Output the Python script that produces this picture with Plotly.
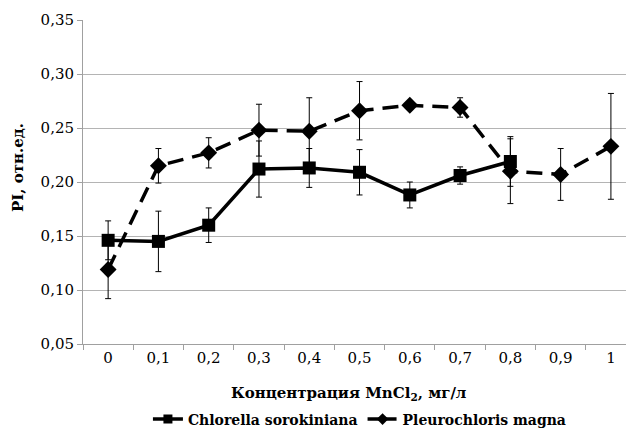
import plotly.graph_objects as go

categories = ["0", "0,1", "0,2", "0,3", "0,4", "0,5", "0,6", "0,7", "0,8", "0,9", "1"]

chlorella_x = categories[:9]
chlorella_y = [0.146, 0.145, 0.160, 0.212, 0.213, 0.209, 0.188, 0.206, 0.219]
chlorella_err = [0.018, 0.028, 0.016, 0.026, 0.018, 0.021, 0.012, 0.008, 0.023]

pleuro_x = categories
pleuro_y = [0.119, 0.215, 0.227, 0.248, 0.247, 0.266, 0.271, 0.269, 0.210, 0.207, 0.233]
pleuro_err = [0.027, 0.016, 0.014, 0.024, 0.031, 0.027, 0.003, 0.009, 0.030, 0.024, 0.049]

FONT = "DejaVu Serif"

fig = go.Figure()
fig.add_trace(go.Scatter(
    x=chlorella_x, y=chlorella_y, name="Chlorella sorokiniana",
    mode="lines+markers", showlegend=False,
    line=dict(color="black", width=3.5),
    marker=dict(symbol="square", size=13, color="black"),
    error_y=dict(type="data", array=chlorella_err, color="black", thickness=1, width=3),
))
fig.add_trace(go.Scatter(
    x=pleuro_x, y=pleuro_y, name="Pleurochloris magna",
    mode="lines+markers", showlegend=False,
    line=dict(color="black", width=3.5, dash="16px,9px"),
    marker=dict(symbol="diamond", size=13, color="black"),
    error_y=dict(type="data", array=pleuro_err, color="black", thickness=1, width=3),
))
fig.add_trace(go.Scatter(
    x=[None], y=[None], name="Chlorella sorokiniana", mode="lines+markers",
    line=dict(color="black", width=3.5),
    marker=dict(symbol="square", size=9, color="black"),
))
fig.add_trace(go.Scatter(
    x=[None], y=[None], name="Pleurochloris magna", mode="lines+markers",
    line=dict(color="black", width=3.5, dash="12px,5px"),
    marker=dict(symbol="diamond", size=9, color="black"),
))

fig.update_layout(
    width=626, height=436,
    margin=dict(l=83, r=0, t=20, b=90),
    paper_bgcolor="white", plot_bgcolor="white",
    separators=", ",
    font=dict(family=FONT, size=15, color="black"),
    showlegend=True,
    legend=dict(
        orientation="h", x=0.51, y=-0.233, xanchor="center", yanchor="middle",
        font=dict(family=FONT, size=14, color="black", weight="bold", style="normal"),
        itemwidth=30, tracegroupgap=0,
    ),
    xaxis=dict(
        type="category", categoryorder="array", categoryarray=categories,
        range=[-0.5, 10.3],
        tickson="boundaries", ticks="outside", ticklen=5, tickcolor="#a0a0a0",
        showline=True, linecolor="#a0a0a0", linewidth=1,
        showgrid=False, zeroline=False,
        tickfont=dict(family=FONT, size=15, color="black"),
    ),
    yaxis=dict(
        range=[0.05, 0.35], dtick=0.05, tick0=0.05, tickformat=".2f",
        ticks="outside", ticklen=5, tickcolor="#a0a0a0",
        showline=True, linecolor="#a0a0a0", linewidth=1,
        showgrid=True, gridcolor="#b4b4b4", gridwidth=1, zeroline=False,
        tickfont=dict(family=FONT, size=15, color="black"),
    ),
    annotations=[
        dict(text="<b>Концентрация MnCl<sub>2</sub>, мг/л</b>", xref="paper", yref="paper",
             x=0.49, y=-0.153, xanchor="center", yanchor="middle", showarrow=False,
             font=dict(family=FONT, size=15, color="black")),
        dict(text="<b>PI, отн.ед.</b>", xref="paper", yref="paper",
             x=-0.12, y=0.546, xanchor="center", yanchor="middle", showarrow=False,
             textangle=-90, font=dict(family=FONT, size=15, color="black")),
    ],
)

fig.write_html("out.html")
